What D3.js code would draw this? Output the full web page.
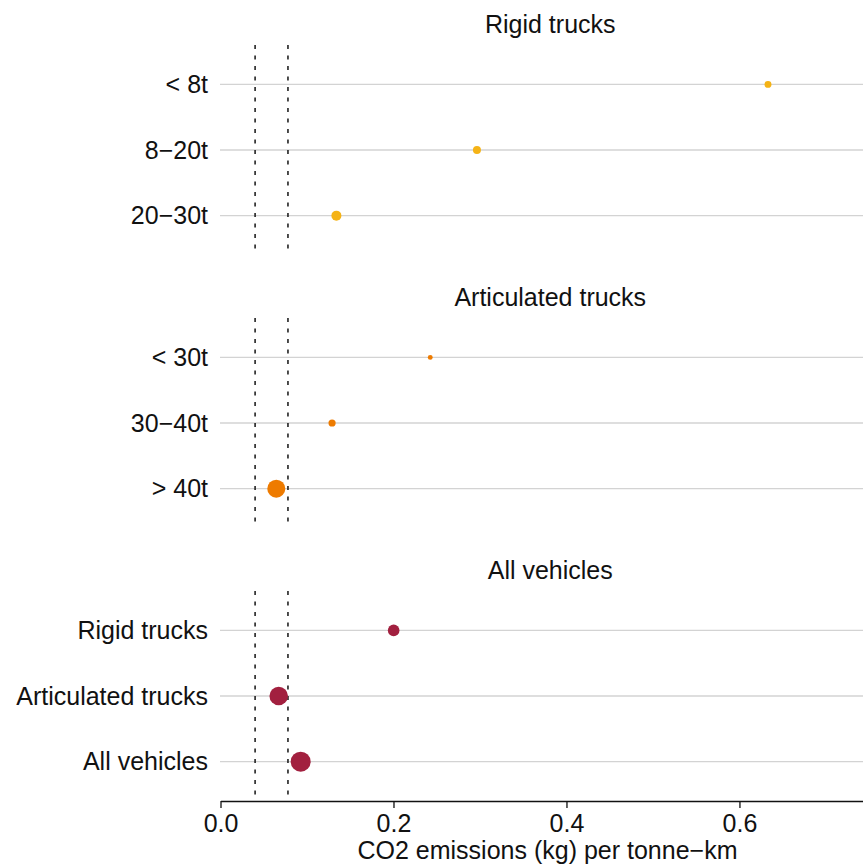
<html>
    <head>
        <script src="https://d3js.org/d3.v7.min.js"></script>
        <style>
            body{ margin:0; background:#fff; }
            text{ font-family: "Liberation Sans", Arial, sans-serif; }
        </style>
    </head>
    <body>
        <svg id="svg" width="863" height="864"></svg>
        <script>
            // data
            var panelTitles = ["Rigid trucks", "Articulated trucks", "All vehicles"];
            var rigidLabels = ["< 8t", "8\u221220t", "20\u221230t"];
            var rigidValues = [0.633, 0.2965, 0.134];
            var rigidWeights = [12, 16, 25];
            var articLabels = ["< 30t", "30\u221240t", "> 40t"];
            var articValues = [0.2425, 0.129, 0.0645];
            var articWeights = [6, 13, 81];
            var allLabels = ["Rigid trucks", "Articulated trucks", "All vehicles"];
            var allValues = [0.2002, 0.0673, 0.0927];
            var allWeights = [34, 86, 100];
            var refLines = [0.040, 0.078];
            var xTicks = [0, 0.2, 0.4, 0.6];
            var colors = ["#F5B316", "#EE7B00", "#A2203F"];

            var panels = [
                {title: panelTitles[0], labels: rigidLabels, values: rigidValues, weights: rigidWeights},
                {title: panelTitles[1], labels: articLabels, values: articValues, weights: articWeights},
                {title: panelTitles[2], labels: allLabels, values: allValues, weights: allWeights}
            ];

            var svg = d3.select("svg");
            var left = 220.5, right = 880;
            var panelTop = [45, 318, 591];
            var panelH = 210;
            var fontSize = "25px";

            var x = d3.scaleLinear().domain([0, 0.7625]).range([left, right]);
            var r = d3.scaleSqrt().domain([0, 100]).range([0, 10]);

            panels.forEach(function(p, k){
                var top = panelTop[k];
                var y = d3.scalePoint().domain(p.labels).range([top, top + panelH]).padding(0.6);
                var g = svg.append("g");

                // grid lines
                g.selectAll(".grid").data(p.labels).enter().append("line")
                    .attr("x1", left - 0.5).attr("x2", 863)
                    .attr("y1", function(d){ return y(d); })
                    .attr("y2", function(d){ return y(d); })
                    .attr("stroke", "#d3d3d3")
                    .attr("stroke-width", 1.3);

                // reference lines
                g.selectAll(".ref").data(refLines).enter().append("line")
                    .attr("x1", function(d){ return x(d); })
                    .attr("x2", function(d){ return x(d); })
                    .attr("y1", top).attr("y2", top + panelH)
                    .attr("stroke", "#222")
                    .attr("stroke-width", 1.6)
                    .attr("stroke-dasharray", "4,6.5");

                // labels
                g.selectAll(".lab").data(p.labels).enter().append("text")
                    .attr("x", 208)
                    .attr("y", function(d){ return y(d); })
                    .attr("dy", "0.35em")
                    .attr("text-anchor", "end")
                    .style("font-size", fontSize)
                    .attr("fill", "#111")
                    .text(function(d){ return d; });

                // points
                g.selectAll(".pt").data(p.values).enter().append("circle")
                    .attr("cx", function(d){ return x(d); })
                    .attr("cy", function(d, i){ return y(p.labels[i]); })
                    .attr("r", function(d, i){ return r(p.weights[i]); })
                    .attr("fill", colors[k]);

                // title
                g.append("text")
                    .attr("x", (left + right) / 2)
                    .attr("y", top - 12)
                    .attr("text-anchor", "middle")
                    .style("font-size", fontSize)
                    .attr("fill", "#111")
                    .text(p.title);
            });

            // x axis
            var axisY = panelTop[2] + panelH;
            var axis = svg.append("g")
                .attr("transform", "translate(0," + axisY + ")")
                .call(d3.axisBottom(x).tickValues(xTicks).tickFormat(d3.format(".1f"))
                    .tickSize(7).tickSizeOuter(0).tickPadding(6));
            axis.select(".domain").attr("stroke", "#111").attr("stroke-width", 1.3);
            axis.selectAll(".tick line").attr("stroke", "#111").attr("stroke-width", 1.3);
            axis.selectAll(".tick text")
                .style("font-size", fontSize)
                .style("font-family", "'Liberation Sans', Arial, sans-serif")
                .attr("fill", "#111");

            svg.append("text")
                .attr("x", 547.5)
                .attr("y", 859)
                .attr("text-anchor", "middle")
                .style("font-size", fontSize)
                .attr("fill", "#111")
                .text("CO2 emissions (kg) per tonne\u2212km");
        </script>
    </body>
</html>
